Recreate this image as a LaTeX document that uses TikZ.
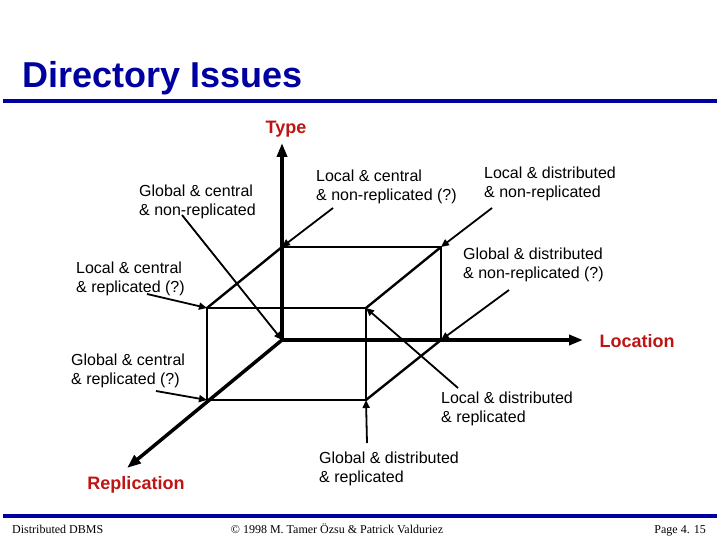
\documentclass[tikz,border=0pt]{standalone}
\usepackage{fontspec}
\setmainfont{Liberation Sans}
\newfontfamily\footfont{Liberation Serif}
\usetikzlibrary{arrows.meta, positioning}
\definecolor{slideblue}{RGB}{0,0,160}
\definecolor{axisred}{RGB}{190,20,20}

\begin{document}
\begin{tikzpicture}[x=1pt, y=-1pt,
    axis/.style={line width=3.5pt, line cap=round, -{Triangle[length=14pt,width=10pt]}},
    boxedge/.style={line width=2.4pt, line cap=round},
    leader/.style={line width=1.8pt, -{Triangle[length=8pt,width=7pt]}},
    lbl/.style={anchor=north west, inner sep=0pt, align=left, font=\fontsize{16}{19}\selectfont},
    axlbl/.style={inner sep=0pt, text=axisred, font=\fontsize{18}{20}\selectfont\bfseries},
    foot/.style={anchor=base, inner sep=0pt, font=\footfont\fontsize{12}{14}\selectfont}]
  \useasboundingbox (0,0) rectangle (720,540);

  % title and rules
  \node[anchor=base west, inner sep=0pt, text=slideblue,
        font=\fontsize{36}{40}\selectfont\bfseries] (title) at (22,88) {Directory Issues};
  \draw[slideblue, line width=4pt] (3,101) -- (717,101);
  \draw[slideblue, line width=4pt] (3,516) -- (717,516);

  % corners of the cube
  \coordinate (bo)  at (282,340);
  \coordinate (btl) at (282,247);
  \coordinate (btr) at (441,247);
  \coordinate (bbr) at (441,340);
  \coordinate (fo)  at (207,400);
  \coordinate (ftl) at (207,308);
  \coordinate (ftr) at (366,308);
  \coordinate (fbr) at (366,400);

  % axis ends
  \coordinate (typetip) at (282,143);
  \coordinate (loctip)  at (583,340);
  \coordinate (reptip)  at (127,468);

  \draw[boxedge] (btl) -- (btr) -- (bbr);
  \draw[boxedge] (fo) -- (ftl) -- (ftr) -- (fbr) -- (fo);
  \draw[boxedge] (btl) -- (ftl);
  \draw[boxedge] (btr) -- (ftr);
  \draw[boxedge] (bbr) -- (fbr);

  \draw[axis] (bo) -- (typetip);
  \draw[axis] (bo) -- (loctip);
  \draw[axis] (bo) -- (reptip);

  \node[axlbl] (type) at (286,129) {Type};
  \node[axlbl] (location) at (637,341) {Location};
  \node[axlbl] (replication) at (136,485) {Replication};

  % labels
  \node[lbl] (gcn) at (139,185) {Global \& central\\\& non-replicated};
  \node[lbl] (lcn) at (316,170) {Local \& central\\\& non-replicated (?)};
  \node[lbl] (ldn) at (484,167) {Local \& distributed\\\& non-replicated};
  \node[lbl] (gdn) at (463,248) {Global \& distributed\\\& non-replicated (?)};
  \node[lbl] (lcr) at (76,262) {Local \& central\\\& replicated (?)};
  \node[lbl] (gcr) at (71,354) {Global \& central\\\& replicated (?)};
  \node[lbl] (ldr) at (441,392) {Local \& distributed\\\& replicated};
  \node[lbl] (gdr) at (319,452) {Global \& distributed\\\& replicated};

  % leader starts
  \coordinate (s1) at (182,215);
  \coordinate (s2) at (333,208);
  \coordinate (s3) at (492,208);
  \coordinate (s4) at (509,290);
  \coordinate (s5) at (147,294);
  \coordinate (s6) at (156,391);
  \coordinate (s7) at (458,388);
  \coordinate (s8) at (367,443);

  \draw[leader] (s1) -- (bo);
  \draw[leader] (s2) -- (btl);
  \draw[leader] (s3) -- (btr);
  \draw[leader] (s4) -- (bbr);
  \draw[leader] (s5) -- (ftl);
  \draw[leader] (s6) -- (fo);
  \draw[leader] (s7) -- (ftr);
  \draw[leader] (s8) -- (fbr);

  % footer
  \node[foot, anchor=base west] (dbms) at (12,533) {Distributed DBMS};
  \node[foot] (copy) at (337,533) {© 1998 M. Tamer Özsu \& Patrick Valduriez};
  \node[foot, anchor=base east] (page) at (706,533) {Page 4. 15};
\end{tikzpicture}
\end{document}
